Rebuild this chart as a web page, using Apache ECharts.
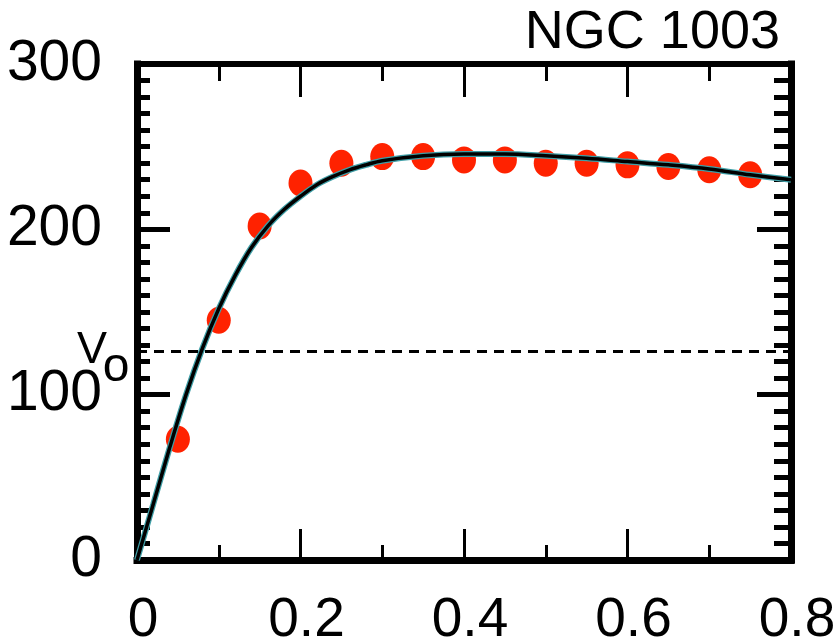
<!DOCTYPE html>
<html>
<head>
<meta charset="utf-8">
<script src="https://cdn.jsdelivr.net/npm/echarts@6/dist/echarts.min.js"></script>
<style>
  html, body { margin: 0; padding: 0; background: #fff; }
  #chart { width: 835px; height: 637px; }
</style>
</head>
<body>
<div id="chart"></div>
<script>
// Observed rotation velocities (red points)
const obsRadius = [0.05, 0.10, 0.15, 0.20, 0.25, 0.30, 0.35, 0.40, 0.45, 0.50, 0.55, 0.60, 0.65, 0.70, 0.75];
const obsVelocity = [73, 145, 202, 228, 240, 244, 244, 242, 242, 240, 240, 239, 238, 236, 233];

// Model curve
const modelRadius = [0, 0.02, 0.04, 0.06, 0.08, 0.10, 0.12, 0.14, 0.16, 0.18, 0.20, 0.22, 0.24, 0.26, 0.28, 0.30, 0.35, 0.40, 0.45, 0.50, 0.55, 0.60, 0.65, 0.70, 0.75, 0.80];
const modelVelocity = [0, 34, 68, 100, 128, 152, 172, 189, 202, 212, 220, 227, 232, 236, 239, 241.5, 244.5, 245.5, 245.5, 244.5, 243, 241, 239, 236.5, 233, 230];

// Reference velocity V_o (dashed line)
const vZero = 126;

const xTicks = [0, 0.2, 0.4, 0.6, 0.8];
const yTicks = [0, 100, 200, 300];
const titleText = 'NGC 1003';

const FONT = '"Liberation Sans", Arial, Helvetica, sans-serif';

const chart = echarts.init(document.getElementById('chart'), null, { renderer: 'canvas' });

function pairs(xs, ys) { return xs.map((x, i) => [x, ys[i]]); }

const axisLineStyle = { color: '#000', width: 7, cap: 'square' };

const option = {
  animation: false,
  backgroundColor: '#fff',
  grid: { left: 137, right: 44, top: 64, bottom: 77, containLabel: false, outerBoundsMode: 'none' },
  xAxis: [
    {
      type: 'value', position: 'bottom', min: xTicks[0], max: xTicks[xTicks.length - 1], interval: 0.2,
      axisLine: { show: true, onZero: false, lineStyle: axisLineStyle },
      axisTick: { show: true, inside: true, length: 31, lineStyle: { color: '#000', width: 3 } },
      minorTick: { show: true, splitNumber: 2, length: 15, lineStyle: { color: '#000', width: 3 } },
      splitLine: { show: false },
      axisLabel: {
        show: true, margin: 33, color: '#000', fontFamily: FONT, fontSize: 55,
        padding: [0, 0, 0, 12], showMinLabel: true, showMaxLabel: true, hideOverlap: false,
        formatter: v => (v === 0 ? '0' : String(Math.round(v * 10) / 10))
      }
    },
    {
      type: 'value', position: 'top', min: xTicks[0], max: xTicks[xTicks.length - 1], interval: 0.2,
      axisLine: { show: true, onZero: false, lineStyle: { color: '#000', width: 6, cap: 'square' } },
      axisTick: { show: true, inside: true, length: 33, lineStyle: { color: '#000', width: 3 } },
      minorTick: { show: true, splitNumber: 2, length: 17, lineStyle: { color: '#000', width: 3 } },
      splitLine: { show: false },
      axisLabel: { show: false }
    }
  ],
  yAxis: [
    {
      type: 'value', position: 'left', min: yTicks[0], max: yTicks[yTicks.length - 1], interval: 100,
      axisLine: { show: true, onZero: false, lineStyle: axisLineStyle },
      axisTick: { show: true, inside: true, length: 33, lineStyle: { color: '#000', width: 5 } },
      minorTick: { show: true, splitNumber: 10, length: 13, lineStyle: { color: '#000', width: 5 } },
      splitLine: { show: false },
      axisLabel: { show: true, margin: 35, color: '#000', fontFamily: FONT, fontSize: 57, showMinLabel: true, showMaxLabel: true, hideOverlap: false }
    },
    {
      type: 'value', position: 'right', min: yTicks[0], max: yTicks[yTicks.length - 1], interval: 100,
      axisLine: { show: true, onZero: false, lineStyle: axisLineStyle },
      axisTick: { show: true, inside: true, length: 34, lineStyle: { color: '#000', width: 5 } },
      minorTick: { show: true, splitNumber: 10, length: 17, lineStyle: { color: '#000', width: 5 } },
      splitLine: { show: false },
      axisLabel: { show: false }
    }
  ],
  series: [
    {
      name: 'observed', type: 'scatter', xAxisIndex: 0, yAxisIndex: 0, z: 2,
      data: pairs(obsRadius, obsVelocity),
      symbol: 'circle', symbolSize: [24, 27],
      itemStyle: { color: '#ff2200', opacity: 1 },
      markLine: {
        silent: true, symbol: ['none', 'none'],
        label: { show: false },
        lineStyle: { color: '#000', width: 3, type: [10, 7] },
        data: [{ yAxis: vZero }]
      }
    },
    {
      name: 'model-teal', type: 'line', xAxisIndex: 0, yAxisIndex: 0, z: 3,
      data: pairs(modelRadius, modelVelocity),
      smooth: 0.35, showSymbol: false, symbol: 'none',
      lineStyle: { color: '#3f9ea6', width: 6 }
    },
    {
      name: 'model', type: 'line', xAxisIndex: 0, yAxisIndex: 0, z: 4,
      data: pairs(modelRadius, modelVelocity),
      smooth: 0.35, showSymbol: false, symbol: 'none',
      lineStyle: { color: '#000', width: 3.5 }
    }
  ],
  graphic: [
    {
      type: 'text', z: 10,
      style: {
        text: titleText, x: 780, y: 33, textAlign: 'right', textVerticalAlign: 'middle',
        font: '54px ' + FONT, fill: '#000'
      }
    },
    {
      type: 'text', z: 10,
      style: {
        text: 'V', x: 92, y: 351, textAlign: 'center', textVerticalAlign: 'middle',
        font: '45px ' + FONT, fill: '#000'
      }
    },
    {
      type: 'text', z: 10,
      style: {
        text: 'o', x: 116, y: 368, textAlign: 'center', textVerticalAlign: 'middle',
        font: '48px ' + FONT, fill: '#000'
      }
    }
  ]
};

chart.setOption(option);
</script>
</body>
</html>
